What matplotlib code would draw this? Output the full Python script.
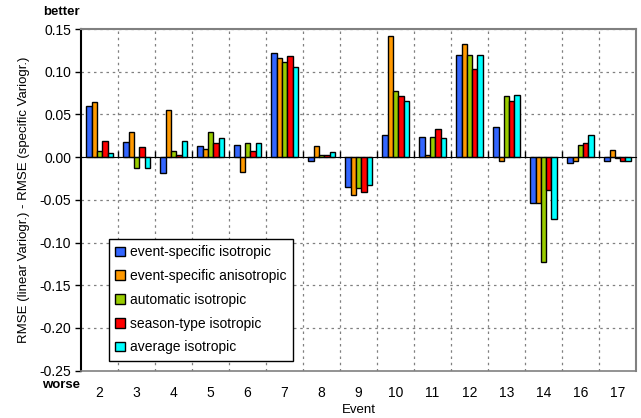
import numpy as np
import matplotlib
matplotlib.use("Agg")
import matplotlib.pyplot as plt

plt.rcParams['font.family'] = ['Liberation Sans', 'DejaVu Sans']

events = ["2", "3", "4", "5", "6", "7", "8", "9", "10", "11", "12", "13", "14", "16", "17"]

es_iso = [0.060, 0.018, -0.019, 0.013, 0.014, 0.122, -0.005, -0.035, 0.026, 0.023, 0.120, 0.035, -0.054, -0.007, -0.004]
es_aniso = [0.065, 0.030, 0.055, 0.009, -0.017, 0.116, 0.013, -0.044, 0.142, 0.003, 0.133, -0.005, -0.054, -0.005, 0.008]
auto_iso = [0.007, -0.013, 0.007, 0.030, 0.016, 0.111, 0.003, -0.036, 0.077, 0.023, 0.120, 0.071, -0.123, 0.014, -0.001]
season_iso = [0.019, 0.012, 0.003, 0.017, 0.007, 0.118, 0.002, -0.041, 0.071, 0.033, 0.103, 0.066, -0.039, 0.017, -0.004]
avg_iso = [0.005, -0.013, 0.019, 0.022, 0.016, 0.106, 0.006, -0.033, 0.066, 0.022, 0.120, 0.073, -0.073, 0.026, -0.004]

series = [
    ("event-specific isotropic", es_iso, "#3366FF"),
    ("event-specific anisotropic", es_aniso, "#FF9900"),
    ("automatic isotropic", auto_iso, "#99CC00"),
    ("season-type isotropic", season_iso, "#FF0000"),
    ("average isotropic", avg_iso, "#00FFFF"),
]

fig = plt.figure(figsize=(6.41, 4.18), dpi=100)
ax = fig.add_axes([0.1264, 0.1132, 0.8658, 0.8174])

x = np.arange(len(events))
w = 0.144
for i, (name, vals, col) in enumerate(series):
    ax.bar(x + (i - 2) * w, vals, w, color=col, edgecolor="black",
           linewidth=1.0, label=name, zorder=3)

yt = np.round(np.arange(-0.25, 0.151, 0.05), 2)
ax.set_xlim(-0.5, len(events) - 0.5)
ax.set_ylim(-0.25, 0.15)
ax.set_yticks(yt)
ax.set_yticklabels([f"{v:.2f}" if v != 0 else "0.00" for v in yt], fontsize=10)
ax.set_xticks(x)
ax.set_xticklabels(events, fontsize=10)
ax.tick_params(axis="x", length=0, pad=11)
ax.tick_params(axis="y", direction="out", length=4, width=1, color="black", pad=3)

# dotted grid: horizontal at ticks, vertical between events
for yv in yt[1:]:
    ax.axhline(yv, color="#808080", linestyle=(0, (2, 3)), linewidth=0.9, zorder=1)
for xb in x[:-1] + 0.5:
    ax.axvline(xb, color="#808080", linestyle=(0, (2, 3)), linewidth=0.9, zorder=1)

# frame
for s in ["top", "right"]:
    ax.spines[s].set_color("#808080")
    ax.spines[s].set_linewidth(1.5)
ax.spines["bottom"].set_color("#808080")
ax.spines["bottom"].set_linestyle((0, (2, 1)))
ax.spines["bottom"].set_linewidth(1.2)
ax.spines["left"].set_color("black")
ax.spines["left"].set_linewidth(1.5)

# zero axis with boundary ticks
zero_ax = ax.secondary_xaxis(0.25 / 0.40)
zero_ax.set_xticks(x[:-1] + 0.5)
zero_ax.set_xticklabels([])
zero_ax.tick_params(axis="x", direction="out", length=4, width=1, color="black")
zero_ax.spines["bottom"].set_linewidth(1.2)
zero_ax.spines["bottom"].set_color("black")
zero_ax.set_zorder(4)

ax.set_xlabel("Event", fontsize=9.5, labelpad=3)
ax.set_ylabel("RMSE (linear Variogr.) - RMSE (specific Variogr.)", fontsize=9.5, labelpad=7)

fig.text(0.125, 0.972, "better", fontsize=9.5, fontweight="bold", ha="right", va="center")
fig.text(0.125, 0.0935, "worse", fontsize=9.5, fontweight="bold", ha="right", va="top")

leg = ax.legend(loc="upper left", bbox_to_anchor=(0.0505, 0.385), fontsize=10,
                frameon=True, fancybox=False, edgecolor="black",
                handlelength=0.7, handleheight=0.7, handletextpad=0.35,
                labelspacing=0.7, borderpad=0.45, borderaxespad=0, framealpha=1)
leg.get_frame().set_linewidth(1.0)
leg.set_zorder(5)

fig.savefig("out.png", dpi=100)
